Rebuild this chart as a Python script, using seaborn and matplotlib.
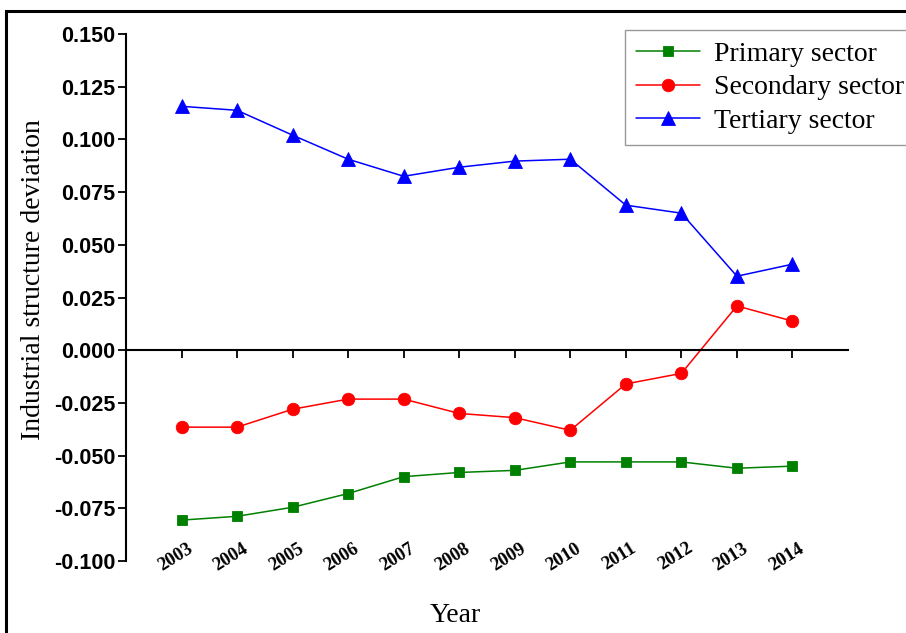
import numpy as np
import pandas as pd
import matplotlib
matplotlib.use("Agg")
import matplotlib.pyplot as plt
import matplotlib.transforms as mtransforms
from matplotlib.patches import Rectangle
import seaborn as sns

# Data
years = [2003, 2004, 2005, 2006, 2007, 2008, 2009, 2010, 2011, 2012, 2013, 2014]
primary = [-0.0806, -0.0788, -0.0745, -0.0680, -0.0600, -0.0580, -0.0570, -0.0530, -0.0530, -0.0530, -0.0560, -0.0550]
secondary = [-0.0365, -0.0365, -0.0280, -0.0232, -0.0232, -0.0300, -0.0320, -0.0380, -0.0160, -0.0110, 0.0210, 0.0138]
tertiary = [0.1157, 0.1138, 0.1020, 0.0906, 0.0825, 0.0868, 0.0897, 0.0906, 0.0688, 0.0650, 0.0351, 0.0408]
sectors = ["Primary sector", "Secondary sector", "Tertiary sector"]
y_ticks = [-0.100, -0.075, -0.050, -0.025, 0.000, 0.025, 0.050, 0.075, 0.100, 0.125, 0.150]

sns.set_theme(style="white")
plt.rcParams["font.family"] = ["Liberation Serif", "DejaVu Serif"]

W, H = 906, 633
fig = plt.figure(figsize=(W / 100, H / 100), dpi=100)
fig.patch.set_facecolor("white")
ax = fig.add_axes([126 / W, 1 - 561 / H, (848 - 126) / W, (561 - 34) / H])

df = pd.DataFrame({
    "Year": years * 3,
    "Deviation": primary + secondary + tertiary,
    "Sector": np.repeat(sectors, len(years)),
})
colors = ["#008000", "#ff0000", "#0000ff"]
palette = dict(zip(sectors, colors))
markers = dict(zip(sectors, ["s", "o", "^"]))

sns.lineplot(data=df, x="Year", y="Deviation", hue="Sector", style="Sector",
             hue_order=sectors, style_order=sectors,
             markers=markers, dashes=False, palette=palette,
             linewidth=1.1, legend=False, ax=ax)

msizes = [7.5, 9, 10]
for line, c, ms in zip(ax.lines[:3], colors, msizes):
    line.set_markeredgecolor(c)
    line.set_markerfacecolor(c)
    line.set_markersize(ms)
    line.set_markeredgewidth(0.6)

# Axes limits and spines
ax.set_xlim(2002, 2015)
ax.set_ylim(-0.100, 0.150)
ax.set_facecolor("white")
for s in ["top", "right"]:
    ax.spines[s].set_visible(False)
ax.spines["left"].set_color("black")
ax.spines["left"].set_linewidth(1.5)
ax.spines["bottom"].set_position(("data", 0))
ax.spines["bottom"].set_color("black")
ax.spines["bottom"].set_linewidth(1.5)

ax.set_xticks(years)
ax.tick_params(axis="x", direction="out", length=6, width=1.3, color="black",
               labelbottom=False, bottom=True)
ax.set_yticks(y_ticks)
ax.set_yticklabels([f"{v:.3f}" for v in y_ticks])
ax.tick_params(axis="y", direction="out", length=6, width=1.3, color="black",
               left=True, pad=1.5)
for lab in ax.get_yticklabels():
    lab.set_fontfamily("Liberation Sans")
    lab.set_fontweight("bold")
    lab.set_fontsize(15.5)
    lab.set_color("black")

ax.set_xlabel("")
ax.set_ylabel("")

# Year labels along the bottom of the plot area
trans = mtransforms.blended_transform_factory(ax.transData, ax.transAxes)
for yr in years:
    ax.text(yr - 0.11, 0.008, str(yr), transform=trans, rotation=32,
            ha="center", va="center", rotation_mode="anchor",
            fontsize=13.5, fontweight="bold", color="black",
            family="Liberation Serif")

fig.text(34 / W, 1 - 280 / H, "Industrial structure deviation", rotation=90,
         ha="center", va="center", fontsize=20, color="black")
fig.text(455 / W, 1 - 616 / H, "Year", ha="center", va="center",
         fontsize=20, color="black")

# Legend box runs past the right edge of the figure
leg = ax.legend(handles=ax.lines[:3], labels=sectors, loc="upper left",
                bbox_to_anchor=(625 / W, 1 - 30 / H, 320 / W, 0.0),
                bbox_transform=fig.transFigure, mode="expand",
                frameon=True, fancybox=False, edgecolor="#808080",
                fontsize=20, handlelength=2.3, handletextpad=0.5,
                labelspacing=0.3, borderpad=0.4, borderaxespad=0)
leg.get_frame().set_linewidth(1.0)
for t in leg.get_texts():
    t.set_color("black")

# Outer frame around the figure
fig.add_artist(Rectangle((6 / W, -0.5), 2.0, 1.5 - 11 / H,
                         transform=fig.transFigure, fill=False,
                         edgecolor="black", linewidth=2.2))

fig.savefig("out.png", dpi=100)
